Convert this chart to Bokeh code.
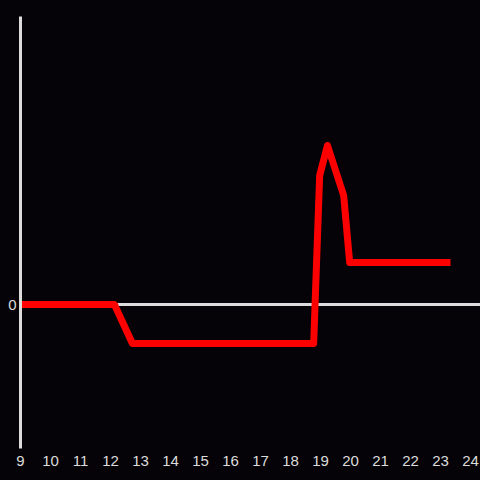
from bokeh.plotting import figure
from bokeh.models import FixedTicker, Span, Range1d
from bokeh.embed import file_html
from bokeh.resources import INLINE

# Data (hour of day vs. value)
hours = [9, 12.13, 12.73, 18.77, 18.97, 19.23, 19.77, 19.97, 23.33]
values = [0, 0, -3.9, -3.9, 12.9, 15.9, 10.9, 4.2, 4.2]
x_ticks = list(range(9, 25))
y_ticks = [0]

BG = "#050307"
FG = "#dcdcdc"

p = figure(width=480, height=480, output_backend="svg", toolbar_location=None,
           x_range=Range1d(9, 24.33), y_range=Range1d(-14.4, 28.8),
           min_border_left=20, min_border_top=16, min_border_bottom=32, min_border_right=0)
p.background_fill_color = BG
p.border_fill_color = BG
p.outline_line_color = None
p.xgrid.visible = False
p.ygrid.visible = False

p.add_layout(Span(location=0, dimension="width", line_color=FG, line_width=3, level="underlay"))

p.line(hours, values, line_color="#ff0000", line_width=7, line_join="round")

p.xaxis.ticker = FixedTicker(ticks=x_ticks)
p.xaxis.axis_line_color = None
p.xaxis.major_tick_line_color = None
p.xaxis.minor_tick_line_color = None
p.xaxis.major_tick_out = 0
p.xaxis.major_label_standoff = 7
p.xaxis.major_label_text_color = FG
p.xaxis.major_label_text_font = "Liberation Sans"
p.xaxis.major_label_text_font_size = "15px"

p.yaxis.ticker = FixedTicker(ticks=y_ticks)
p.yaxis.axis_line_color = FG
p.yaxis.axis_line_width = 3
p.yaxis.major_tick_line_color = None
p.yaxis.minor_tick_line_color = None
p.yaxis.major_tick_out = 0
p.yaxis.major_label_standoff = 4
p.yaxis.major_label_text_color = FG
p.yaxis.major_label_text_font = "Liberation Sans"
p.yaxis.major_label_text_font_size = "15px"

html = file_html(p, INLINE)
html = html.replace("</head>", "<style>html,body{background:%s;}</style></head>" % BG, 1)
open("out.html", "w").write(html)
